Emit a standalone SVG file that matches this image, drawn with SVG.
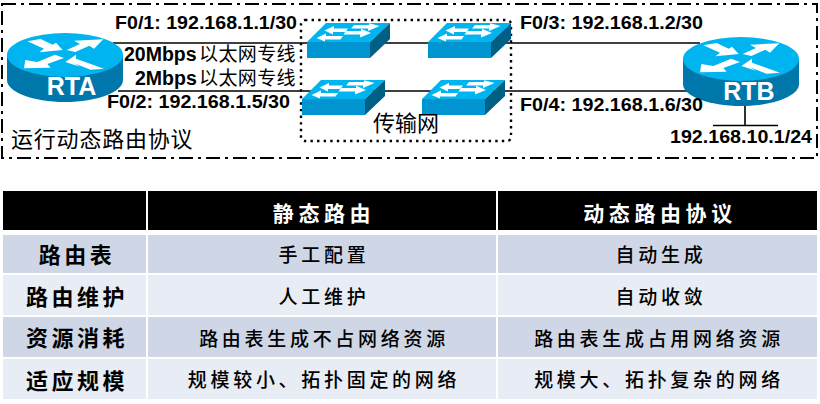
<svg xmlns="http://www.w3.org/2000/svg" xmlns:xlink="http://www.w3.org/1999/xlink" width="820" height="404" viewBox="0 0 820 404">
<style>
.lbl{font-family:"Liberation Sans",Arial,sans-serif;font-weight:700;font-size:18px;fill:#000}
.cn{font-family:"Liberation Sans",Arial,sans-serif;font-weight:700;font-size:19.5px;fill:#000}
.cz{font-family:"Noto Sans CJK SC",sans-serif;font-weight:400;font-size:19px;letter-spacing:.4px;fill:#000}
.zh{font-family:"Noto Sans CJK SC",sans-serif;font-size:22px;fill:#000}
.rn{font-family:"Liberation Sans",Arial,sans-serif;font-weight:700;font-size:25px;fill:#fff;text-anchor:middle}
.th{font-family:"Noto Sans CJK SC",sans-serif;font-weight:700;font-size:21px;letter-spacing:4.6px;fill:#fff;text-anchor:middle}
.rh{font-family:"Noto Sans CJK SC",sans-serif;font-weight:700;font-size:22px;letter-spacing:3.5px;fill:#000;text-anchor:middle}
.td{font-family:"Noto Sans CJK SC",sans-serif;font-weight:500;font-size:19px;letter-spacing:3.7px;fill:#000;text-anchor:middle}
.a{fill:#cfd7e6}.b{fill:#e8ecf4}
.w{fill:#fff}
.conn{stroke:#000;stroke-width:1.6;fill:none}
</style>
<defs>
<g id="router">
<path d="M0 22V47C0 59 26 69 58 69S116 59 116 47V22Z" fill="#0077aa"/>
<ellipse cx="58" cy="22" rx="58" ry="22" fill="#00b4f0"/>
<g class="w" transform="translate(-7,-33) scale(.33333)">
<polygon points="82,124 122,117 158,134 168,128 188,150 118,157 132,146"/>
<polygon points="200,150 240,132 222,122 310,118 282,146 268,137 226,156"/>
<polygon points="165,164 192,174 142,192 152,203 72,205 76,180 112,186"/>
<polygon points="196,186 228,164 228,176 312,206 272,209 222,190 240,200"/>
</g>
</g>
<g id="switch">
<path d="M0 19L19 0H83L63 19Z" fill="#00b4f0"/>
<rect x="0" y="19" width="63" height="16" fill="#0095d0"/>
<path d="M63 19L83 0V16L63 35Z" fill="#005f85"/>
<path class="w" d="M17.5 7.5L27 3V5.5H41L38.5 9H26V11.5ZM72.5 3L62 .2V2H47L44 5.5H61V8ZM9.5 15L19 10.5V13H36L33.5 16.5H18V18.5ZM64 10L54 5.7V8H39L36.5 11.5H53V14.5Z"/>
</g>
</defs>
<rect width="820" height="404" fill="#fff"/>
<rect id="boundary" x="2" y="4" width="815" height="154" fill="none" stroke="#000" stroke-width="2" stroke-dasharray="14 5 3 5"/>
<rect id="transit" x="301" y="20" width="210" height="121" rx="4" fill="none" stroke="#000" stroke-width="2.4" stroke-dasharray="2.4 4.2"/>
<g id="connectors">
<path class="conn" d="M113 43H700M118 91H700M745 105V125M713 125.5H778"/>
</g>
<g id="RTA"><use xlink:href="#router" href="#router" x="7" y="33"/><text class="rn" x="71.5" y="95">RTA</text></g>
<g id="RTB"><use xlink:href="#router" href="#router" x="683" y="37"/><text class="rn" x="749" y="100">RTB</text></g>
<g id="sw1"><use xlink:href="#switch" href="#switch" x="307" y="23"/></g>
<g id="sw2"><use xlink:href="#switch" href="#switch" x="428" y="23"/></g>
<g id="sw3"><use xlink:href="#switch" href="#switch" x="302" y="80"/></g>
<g id="sw4"><use xlink:href="#switch" href="#switch" x="422" y="80"/></g>
<g id="labels">
<text class="lbl" x="115" y="29" textLength="182" lengthAdjust="spacingAndGlyphs">F0/1: 192.168.1.1/30</text>
<text class="cn" x="124" y="61">20Mbps<tspan class="cz" x="199">以太网专线</tspan></text>
<text class="cn" x="135" y="85">2Mbps<tspan class="cz" x="199">以太网专线</tspan></text>
<text class="lbl" x="107" y="108" textLength="183" lengthAdjust="spacingAndGlyphs">F0/2: 192.168.1.5/30</text>
<text class="lbl" x="520" y="29" textLength="183" lengthAdjust="spacingAndGlyphs">F0/3: 192.168.1.2/30</text>
<text class="lbl" x="520" y="111" textLength="183" lengthAdjust="spacingAndGlyphs">F0/4: 192.168.1.6/30</text>
<text class="lbl" x="670" y="143" textLength="142" lengthAdjust="spacingAndGlyphs">192.168.10.1/24</text>
<text class="zh" x="11" y="147" letter-spacing="0.8">运行动态路由协议</text>
<text class="zh" x="373" y="131">传输网</text>
</g>
<g id="table">
<rect x="3" y="191" width="143" height="39" fill="#000"/>
<rect x="148" y="191" width="348" height="39" fill="#000"/>
<rect x="498" y="191" width="319" height="39" fill="#000"/>
<rect class="a" x="3" y="235" width="143" height="38"/><rect class="a" x="148" y="235" width="348" height="38"/><rect class="a" x="498" y="235" width="319" height="38"/>
<rect class="b" x="3" y="275" width="143" height="40"/><rect class="b" x="148" y="275" width="348" height="40"/><rect class="b" x="498" y="275" width="319" height="40"/>
<rect class="a" x="3" y="317" width="143" height="40"/><rect class="a" x="148" y="317" width="348" height="40"/><rect class="a" x="498" y="317" width="319" height="40"/>
<rect class="b" x="3" y="359" width="143" height="40"/><rect class="b" x="148" y="359" width="348" height="40"/><rect class="b" x="498" y="359" width="319" height="40"/>
<text class="th" x="324" y="221">静态路由</text>
<text class="th" x="660" y="221">动态路由协议</text>
<text class="rh" x="77" y="263">路由表</text>
<text class="rh" x="77" y="305">路由维护</text>
<text class="rh" x="77" y="346">资源消耗</text>
<text class="rh" x="77" y="389">适应规模</text>
<text class="td" x="324" y="262">手工配置</text>
<text class="td" x="324" y="304">人工维护</text>
<text class="td" x="324" y="346">路由表生成不占网络资源</text>
<text class="td" x="324" y="387">规模较小、拓扑固定的网络</text>
<text class="td" x="661" y="262">自动生成</text>
<text class="td" x="661" y="304">自动收敛</text>
<text class="td" x="659" y="346">路由表生成占用网络资源</text>
<text class="td" x="659" y="387">规模大、拓扑复杂的网络</text>
</g>
</svg>
